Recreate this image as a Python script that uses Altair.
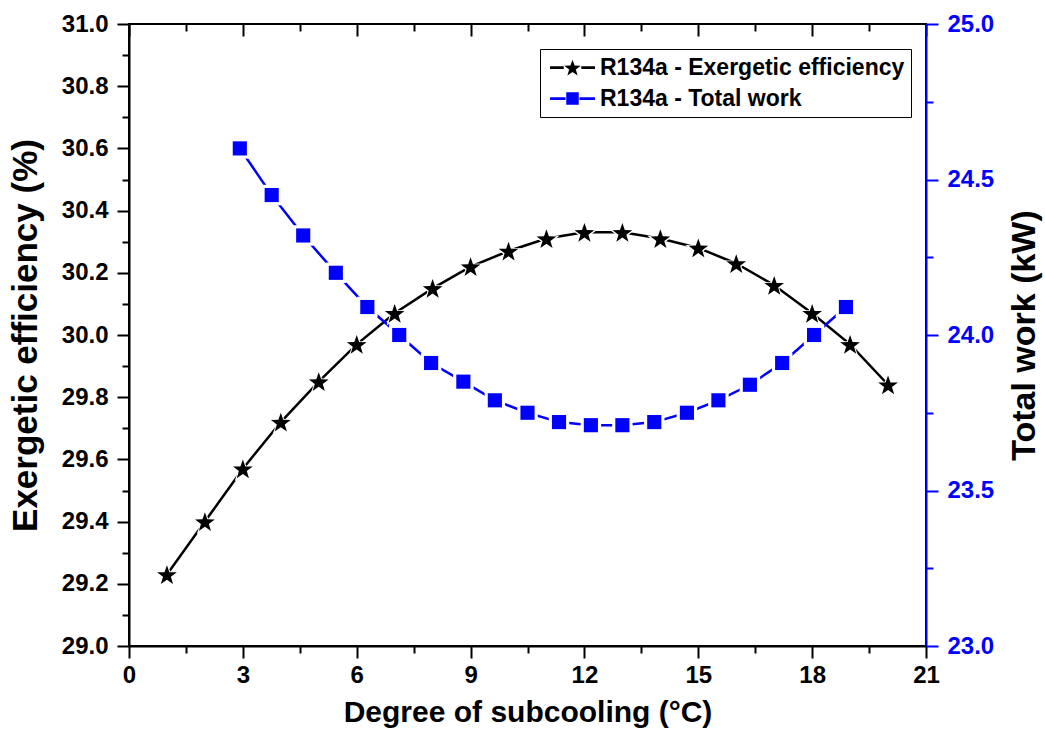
import math
import altair as alt
import pandas as pd

# ---------------- data ----------------
x_eff = [1, 2, 3, 4, 5, 6, 7, 8, 9, 10, 11, 12, 13, 14, 15, 16, 17, 18, 19, 20]
eff = [29.23, 29.40, 29.57, 29.72, 29.85, 29.97, 30.07, 30.15, 30.22, 30.27,
       30.31, 30.33, 30.33, 30.31, 30.28, 30.23, 30.16, 30.07, 29.97, 29.84]

x_work = [2.92, 3.76, 4.59, 5.45, 6.28, 7.12, 7.96, 8.81, 9.64, 10.5,
          11.33, 12.17, 13.0, 13.84, 14.7, 15.53, 16.36, 17.21, 18.05, 18.89]
work = [24.60, 24.45, 24.32, 24.20, 24.09, 24.00, 23.91, 23.85, 23.79, 23.75,
        23.72, 23.71, 23.71, 23.72, 23.75, 23.79, 23.84, 23.91, 24.00, 24.09]

series = ["R134a - Exergetic efficiency", "R134a - Total work"]
colors = ["#000000", "#0000FF"]

x_major = [0, 3, 6, 9, 12, 15, 18, 21]
x_minor = [1.5, 4.5, 7.5, 10.5, 13.5, 16.5, 19.5]
yl_major = [29.0, 29.2, 29.4, 29.6, 29.8, 30.0, 30.2, 30.4, 30.6, 30.8, 31.0]
yl_minor = [29.1, 29.3, 29.5, 29.7, 29.9, 30.1, 30.3, 30.5, 30.7, 30.9]
yr_major = [23.0, 23.5, 24.0, 24.5, 25.0]
yr_minor = [23.25, 23.75, 24.25, 24.75]

df_eff = pd.DataFrame({"x": x_eff, "y": eff, "series": series[0]})
df_work = pd.DataFrame({"x": x_work, "y": work, "series": series[1]})

# ---------------- shapes ----------------
def star_pts(r_out, r_in, cx=0.0, cy=0.0):
    pts = []
    for k in range(10):
        a = math.radians(-90 + 36 * k)
        r = r_out if k % 2 == 0 else r_in
        pts.append((cx + r * math.cos(a), cy + r * math.sin(a)))
    return "M" + " L".join(f"{px:.3f},{py:.3f}" for px, py in pts) + " Z"

def rect(x0, y0, x1, y1):
    return f"M{x0},{y0} L{x1},{y0} L{x1},{y1} L{x0},{y1} Z"

STAR = star_pts(1.0, 0.4, 0, 0.1)
bar = 0.11
LEG_STAR = rect(-1.8, -bar, -0.7, bar) + " " + star_pts(0.7, 0.28, 0, 0.07) + " " + rect(0.7, -bar, 1.8, bar)
LEG_SQ = rect(-1.8, -bar, -0.56, bar) + " " + rect(-0.5, -0.5, 0.5, 0.5) + " " + rect(0.56, -bar, 1.8, bar)

FONT = "Liberation Sans"
BLUE = colors[1]

x_scale = alt.Scale(domain=[0, 21], nice=False, zero=False)
yl_scale = alt.Scale(domain=[29, 31], nice=False, zero=False)
yr_scale = alt.Scale(domain=[23, 25], nice=False, zero=False)


def ax(orient, values, size, labels=True, color="#000000", title=None, fmt=None, domain=True,
       offset=0, title_angle=None, title_pad=None, label_pad=None, title_size=30, title_baseline=None):
    kw = dict(orient=orient, values=values, tickSize=size, tickWidth=2, tickColor=color,
              domain=domain, domainColor=color, domainWidth=2, labels=labels, grid=False,
              labelFont=FONT, labelFontSize=24, labelFontWeight="bold", labelColor=color,
              titleFont=FONT, titleFontWeight="bold", titleColor="#000000", titleFontSize=title_size,
              labelFlush=False, labelOverlap=False, offset=offset, title=title)
    if fmt:
        kw["format"] = fmt
    if title_angle is not None:
        kw["titleAngle"] = title_angle
    if title_pad is not None:
        kw["titlePadding"] = title_pad
    if label_pad is not None:
        kw["labelPadding"] = label_pad
    if title_baseline is not None:
        kw["titleBaseline"] = title_baseline
    return alt.Axis(**kw)


x_bot_major = ax("bottom", x_major, 12, title="Degree of subcooling (°C)", title_pad=10, label_pad=5, title_size=30)
x_bot_minor = ax("bottom", x_minor, 7, labels=False, domain=False)
x_top_major = ax("top", x_major, 12, labels=False, domain=False, offset=-12)
x_top_minor = ax("top", x_minor, 7, labels=False, domain=False, offset=-7)

yl_major_ax = ax("left", yl_major, 12, title="Exergetic efficiency (%)", fmt=".1f", title_pad=18,
                 label_pad=9, title_size=35)
yl_minor_ax = ax("left", yl_minor, 7, labels=False, domain=False)

yr_major_ax = ax("right", yr_major, 12, color=BLUE, title="Total work (kW)", fmt=".1f",
                 title_angle=270, title_pad=14, label_pad=9, title_size=34, title_baseline="top")
yr_minor_ax = ax("right", yr_minor, 7, labels=False, domain=False, color=BLUE)

legend = alt.Legend(
    title=None, orient="none", legendX=411, legendY=25,
    labelFont=FONT, labelFontSize=23, labelFontWeight="bold", labelColor="#000000",
    symbolSize=625, symbolStrokeWidth=0, symbolOpacity=1, symbolOffset=14, labelOffset=15,
    strokeColor="#000000", padding=6, rowPadding=6, labelLimit=500,
)
color_enc = alt.Color("series:N", scale=alt.Scale(domain=series, range=colors), legend=legend)
shape_enc = alt.Shape("series:N", scale=alt.Scale(domain=series, range=[LEG_STAR, LEG_SQ]), legend=legend)

# ----- left series (exergetic efficiency) -----
eff_line = alt.Chart(df_eff).mark_line(color="#000000", strokeWidth=2.5).encode(
    x=alt.X("x:Q", scale=x_scale, axis=x_bot_major),
    y=alt.Y("y:Q", scale=yl_scale, axis=yl_major_ax),
)
eff_halo = alt.Chart(df_eff).mark_point(shape=STAR, filled=True, color="#ffffff", opacity=1,
                                        size=760).encode(
    x=alt.X("x:Q", scale=x_scale, axis=x_bot_minor),
    y=alt.Y("y:Q", scale=yl_scale, axis=yl_minor_ax),
)
eff_pts = alt.Chart(df_eff).mark_point(shape=STAR, filled=True, opacity=1, size=430).encode(
    x=alt.X("x:Q", scale=x_scale, axis=x_top_major),
    y=alt.Y("y:Q", scale=yl_scale, axis=None),
    color=color_enc,
)

# ----- right series (total work) -----
work_line = alt.Chart(df_work).mark_line(color=BLUE, strokeWidth=2.5).encode(
    x=alt.X("x:Q", scale=x_scale, axis=x_top_minor),
    y=alt.Y("y:Q", scale=yr_scale, axis=yr_major_ax),
)
work_halo = alt.Chart(df_work).mark_point(shape="square", filled=True, color="#ffffff", opacity=1,
                                          size=420).encode(
    x=alt.X("x:Q", scale=x_scale, axis=None),
    y=alt.Y("y:Q", scale=yr_scale, axis=yr_minor_ax),
)
work_pts = alt.Chart(df_work).mark_point(shape="square", filled=True, opacity=1, size=200).encode(
    x=alt.X("x:Q", scale=x_scale, axis=None),
    y=alt.Y("y:Q", scale=yr_scale, axis=None),
    color=color_enc,
)

# invisible layer that only carries the legend glyphs (line + marker)
legend_layer = alt.Chart(pd.concat([df_eff.head(1), df_work.head(1)])).mark_point(
    filled=True, opacity=0, size=1
).encode(
    x=alt.X("x:Q", scale=x_scale, axis=None),
    y=alt.Y("y:Q", scale=yl_scale, axis=None),
    color=color_enc,
    shape=shape_enc,
)

chart = alt.layer(
    eff_line, work_line, eff_halo, work_halo, eff_pts, work_pts, legend_layer
).resolve_scale(
    y="independent"
).resolve_axis(
    x="independent", y="independent"
).properties(
    width=797, height=622,
    autosize=alt.AutoSizeParams(type="none"),
    padding={"left": 129, "top": 24, "right": 119, "bottom": 90},
    background="#ffffff",
).configure_view(
    stroke="#000000", strokeWidth=2
)

chart.save("out.html", embed_options={"renderer": "svg", "actions": False})
